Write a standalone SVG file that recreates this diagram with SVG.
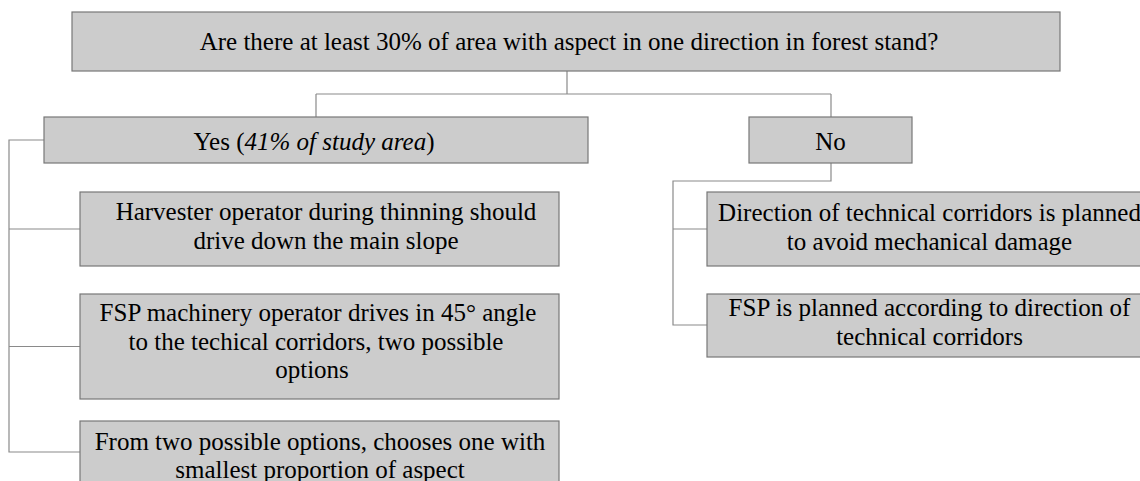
<svg xmlns="http://www.w3.org/2000/svg" width="1140" height="481" viewBox="0 0 1140 481" font-family="'Liberation Serif', 'Times New Roman', Times, serif">
<style>
.box{fill:#cccccc;stroke:#777777;stroke-width:1.2}
.c{fill:none;stroke:#8a8a8a;stroke-width:1.2}
text{font-family:'Liberation Serif','Times New Roman',Times,serif;font-size:25px;fill:#000000;text-anchor:middle}
.it{font-style:italic}
</style>
<rect width="1140" height="481" fill="#ffffff"/>
<g id="connectors">
<path class="c" d="M567 71V94M316 94H831M316 94V117M831 94V117"/>
<path class="c" d="M44 140H9V452H80M9 229H80M9 346.5H80"/>
<path class="c" d="M831 163V181H673V325H707M673 229H707"/>
</g>
<g id="n-question">
<rect class="box" x="72" y="12" width="988" height="59"/>
<text x="569" y="50">Are there at least 30% of area with aspect in one direction in forest stand?</text>
</g>
<g id="n-yes">
<rect class="box" x="44" y="117" width="544" height="46"/>
<text x="314" y="150">Yes (<tspan class="it">41% of study area</tspan>)</text>
</g>
<g id="n-no">
<rect class="box" x="749" y="117" width="163" height="46"/>
<text x="830.5" y="150">No</text>
</g>
<g id="n-harvester">
<rect class="box" x="80" y="192" width="479" height="74"/>
<text x="326" y="220">Harvester operator during thinning should</text>
<text x="326" y="249">drive down the main slope</text>
</g>
<g id="n-fsp45">
<rect class="box" x="80" y="294" width="479" height="105"/>
<text x="318" y="321">FSP machinery operator drives in 45° angle</text>
<text x="316" y="350">to the techical corridors, two possible</text>
<text x="312" y="378">options</text>
</g>
<g id="n-choose">
<rect class="box" x="80" y="421" width="479" height="70"/>
<text x="320" y="450">From two possible options, chooses one with</text>
<text x="320" y="478">smallest proportion of aspect</text>
</g>
<g id="n-direction">
<rect class="box" x="707" y="192" width="446" height="74"/>
<text x="929.5" y="221">Direction of technical corridors is planned</text>
<text x="929.5" y="250">to avoid mechanical damage</text>
</g>
<g id="n-fspplanned">
<rect class="box" x="707" y="294" width="446" height="63"/>
<text x="929.5" y="316">FSP is planned according to direction of</text>
<text x="929.5" y="345">technical corridors</text>
</g>
</svg>
